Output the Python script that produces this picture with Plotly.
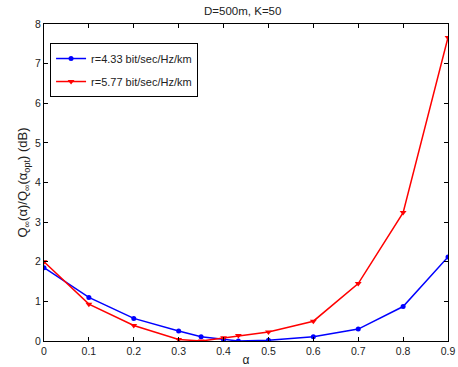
import plotly.graph_objects as go

alpha = [0, 0.1, 0.2, 0.3, 0.35, 0.4, 0.433, 0.5, 0.6, 0.7, 0.8, 0.9]
blue_vals = [1.85, 1.10, 0.57, 0.25, 0.11, 0.04, 0.0, 0.02, 0.11, 0.30, 0.87, 2.12]
red_vals = [2.0, 0.93, 0.39, 0.04, 0.0, 0.08, 0.14, 0.23, 0.50, 1.45, 3.24, 7.66]
x_ticks = [0, 0.1, 0.2, 0.3, 0.4, 0.5, 0.6, 0.7, 0.8, 0.9]
y_ticks = [0, 1, 2, 3, 4, 5, 6, 7, 8]

font = "Liberation Sans, Arial, sans-serif"

fig = go.Figure()
fig.add_trace(go.Scatter(x=alpha, y=blue_vals, mode="lines+markers",
                         name="r=4.33 bit/sec/Hz/km", legendgroup="a",
                         line=dict(color="#0000ff", width=1.5),
                         marker=dict(symbol="circle", size=5, color="#0000ff")))
fig.add_trace(go.Scatter(x=alpha, y=red_vals, mode="lines+markers",
                         name="r=5.77 bit/sec/Hz/km", legendgroup="b",
                         line=dict(color="#ff0000", width=1.5),
                         marker=dict(symbol="triangle-down", size=6, color="#ff0000")))

axis_common = dict(showgrid=False, zeroline=False, showline=True, linecolor="black",
                   linewidth=1, mirror="ticks", ticks="inside", ticklen=4,
                   tickcolor="black", ticklabeloverflow="allow",
                   tickfont=dict(family=font, size=10.5, color="#222"))

fig.update_layout(
    width=458, height=367,
    margin=dict(l=44, r=10, t=24, b=26, autoexpand=False),
    paper_bgcolor="white", plot_bgcolor="white",
    title=dict(text="D=500m, K=50", x=0.53, xanchor="center", y=0.97, yanchor="middle",
               font=dict(family=font, size=11.5, color="#222")),
    xaxis=dict(range=[0, 0.9], tickvals=x_ticks, ticktext=[str(t) for t in x_ticks],
               title=dict(text="α", font=dict(family=font, size=12, color="#222"), standoff=2),
               **axis_common),
    yaxis=dict(range=[0, 8], tickvals=y_ticks,
               title=dict(text="Q<sub>∞</sub>(α)/Q<sub>∞</sub>(α<sub>opt</sub>) (dB)",
                          font=dict(family=font, size=13, color="#222"), standoff=4),
               **axis_common),
    legend=dict(x=0.015, y=0.94, xanchor="left", yanchor="top",
                bordercolor="black", borderwidth=1, bgcolor="white",
                font=dict(family=font, size=11, color="#222"),
                traceorder="grouped", tracegroupgap=4, itemwidth=30),
    showlegend=True,
)

fig.write_html("out.html", config={"displayModeBar": False},
               post_script="document.body.style.margin='0';document.body.style.overflow='hidden';")
